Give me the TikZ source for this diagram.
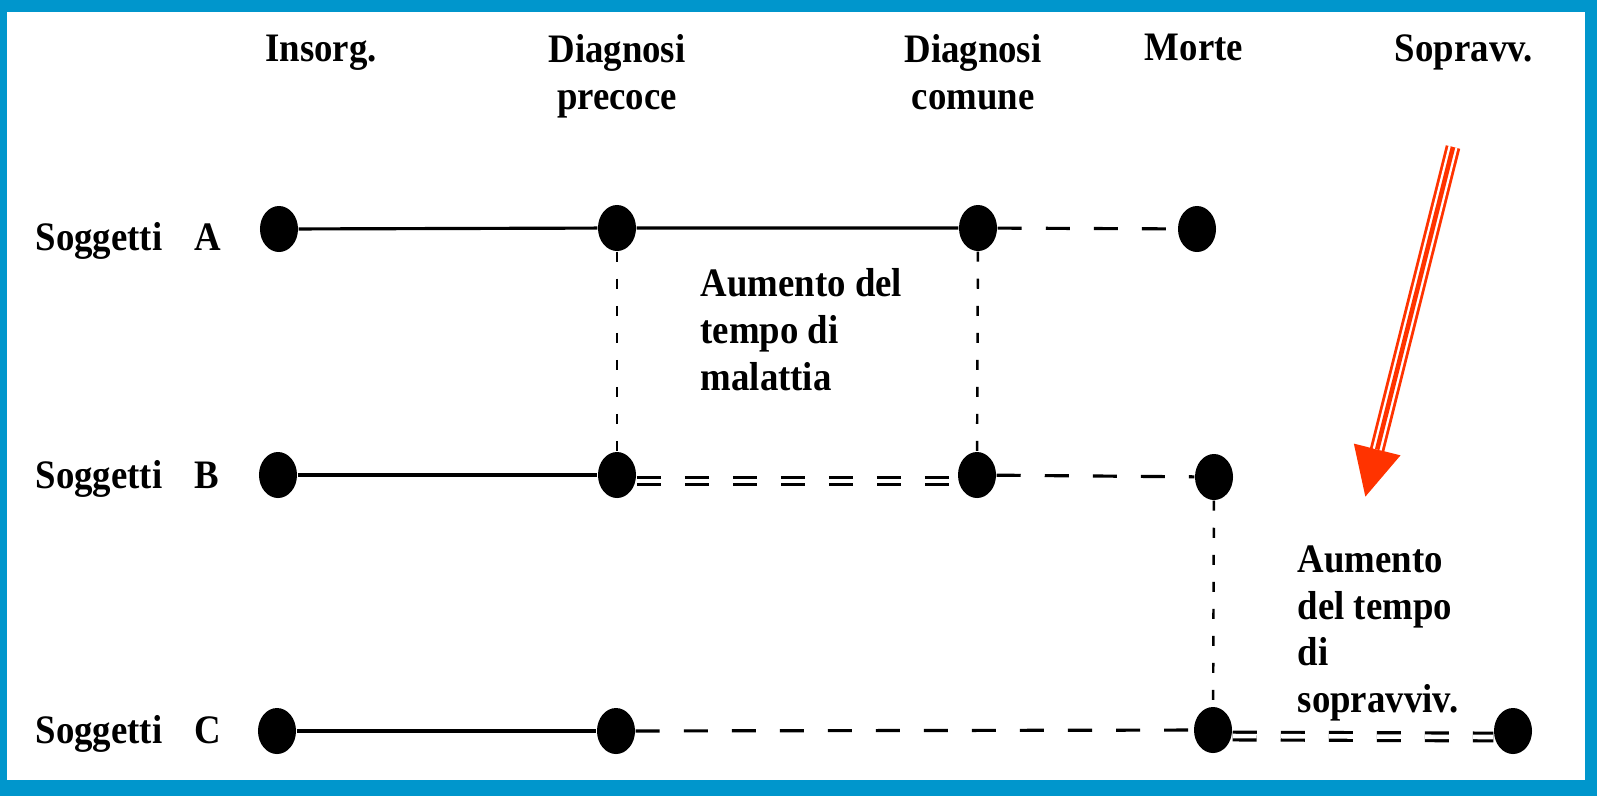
\documentclass[tikz,border=0pt]{standalone}
\usepackage{fontspec}
\setmainfont{Liberation Serif}[FakeStretch=0.91]
\usepackage{tikz}
\usetikzlibrary{shapes.geometric,arrows.meta,calc}
\definecolor{cornice}{RGB}{0,150,204}
\definecolor{freccia}{RGB}{255,51,0}

\begin{document}
\begin{tikzpicture}[x=0.01cm,y=-0.01cm,
	punto/.style={ellipse,fill=black,minimum width=0.38cm,minimum height=0.46cm,inner sep=0pt},
	testo/.style={font=\bfseries\fontsize{11.5}{13.3}\selectfont,inner sep=0pt},
	tratto/.style={line width=0.9pt},
	tratteggio/.style={line width=0.9pt,dash pattern=on 0.24cm off 0.24cm},
	doppio/.style={line width=0.9pt,double distance=1.3pt,dash pattern=on 0.24cm off 0.24cm},
	verticale/.style={line width=0.7pt,dash pattern=on 0.1cm off 0.17cm}]
	
	% cornice
	\fill[cornice] (0,0) rectangle (1597,796);
	\fill[white] (7,12) rectangle (1585,780);
	\useasboundingbox (0,0) rectangle (1597,796);
	
	% intestazioni
	\node[testo,anchor=north] (insorg) at (321,34) {Insorg.};
	\node[testo,anchor=north,align=center] (precoce) at (617,34) {Diagnosi\\precoce};
	\node[testo,anchor=north,align=center] (comune) at (973,34) {Diagnosi\\comune};
	\node[testo,anchor=north] (morte) at (1194,33) {Morte};
	\node[testo,anchor=north] (soprav) at (1464,34) {Sopravv.};
	
	% soggetti
	\node[testo,anchor=base west] (sogA) at (35,250) {Soggetti\hspace{0.8em}A};
	\node[testo,anchor=base west] (sogB) at (35,488) {Soggetti\hspace{0.8em}B};
	\node[testo,anchor=base west] (sogC) at (35,743) {Soggetti\hspace{0.8em}C};
	
	\node[punto] (A1) at (279,229) {};
	\node[punto] (A2) at (617,228) {};
	\node[punto] (A3) at (978,228) {};
	\node[punto] (A4) at (1197,229) {};
	
	\node[punto] (B1) at (278,475) {};
	\node[punto] (B2) at (617,475) {};
	\node[punto] (B3) at (977,475) {};
	\node[punto] (B4) at (1214,477) {};
	
	\node[punto] (C1) at (277,731) {};
	\node[punto] (C2) at (616,731) {};
	\node[punto] (C3) at (1213,730) {};
	\node[punto] (C4) at (1513,731) {};
	
	\draw[tratto] (A1) -- (A2) -- (A3);
	\draw[tratteggio] (A3) -- (A4);
	\draw[tratto] (B1) -- (B2);
	\draw[doppio] ([yshift=-0.06cm]B2.east) -- ([yshift=-0.06cm]B3.west);
	\draw[tratteggio] (B3) -- (B4);
	\draw[tratto] (C1) -- (C2);
	\draw[tratteggio] (C2) -- (C3);
	\draw[doppio] ([yshift=-0.06cm]C3.east) -- ([yshift=-0.06cm]C4.west);
	
	\draw[verticale] (A2) -- (B2);
	\draw[verticale] (A3) -- (B3);
	\draw[verticale] (B4) -- (C3);
	
	\node[testo,anchor=north west,align=left] (malattia) at (700,268) {Aumento del\\tempo di\\malattia};
	\node[testo,anchor=north west,align=left] (sopravviv) at (1297,545) {Aumento\\del tempo\\di\\sopravviv.};
	
	% freccia rossa
	\coordinate (coda) at (1453,147);
	\coordinate (punta) at (1365,498);
	\draw[freccia,line width=4.2pt,-{Triangle[length=0.5cm,width=0.44cm]}] (coda) -- (punta);
	\draw[white,line width=2.6pt] (coda) -- ($(punta)!0.5cm!(coda)$);
	\draw[freccia,line width=1.3pt] (coda) -- ($(punta)!0.5cm!(coda)$);
\end{tikzpicture}
\end{document}
